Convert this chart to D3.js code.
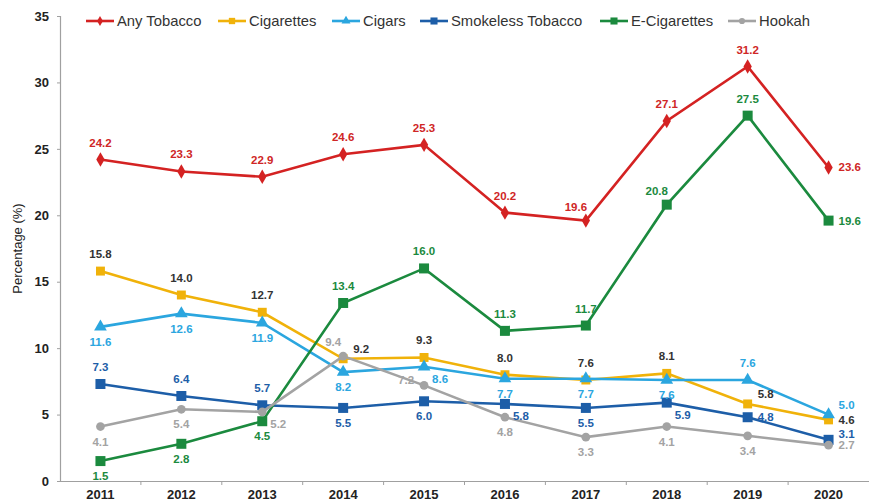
<!DOCTYPE html>
<html>
<head>
<meta charset="utf-8">
<script src="https://cdn.jsdelivr.net/npm/d3@7"></script>
<style>
  body { margin: 0; background: #fff; }
  text { font-family: "Liberation Sans", Arial, sans-serif; }
</style>
</head>
<body>
<div class="chart"></div>
<script>
const years = ['2011', '2012', '2013', '2014', '2015', '2016', '2017', '2018', '2019', '2020'];
const yTicks = [0, 5, 10, 15, 20, 25, 30, 35];

const anyTobacco = [24.2, 23.3, 22.9, 24.6, 25.3, 20.2, 19.6, 27.1, 31.2, 23.6];
const cigarettes = [15.8, 14.0, 12.7, 9.2, 9.3, 8.0, 7.6, 8.1, 5.8, 4.6];
const cigars = [11.6, 12.6, 11.9, 8.2, 8.6, 7.7, 7.7, 7.6, 7.6, 5.0];
const smokeless = [7.3, 6.4, 5.7, 5.5, 6.0, 5.8, 5.5, 5.9, 4.8, 3.1];
const eCigarettes = [1.5, 2.8, 4.5, 13.4, 16.0, 11.3, 11.7, 20.8, 27.5, 19.6];
const hookah = [4.1, 5.4, 5.2, 9.4, 7.2, 4.8, 3.3, 4.1, 3.4, 2.7];

const seriesNames = ['Any Tobacco', 'Cigarettes', 'Cigars', 'Smokeless Tobacco', 'E-Cigarettes', 'Hookah'];
const seriesValues = [anyTobacco, cigarettes, cigars, smokeless, eCigarettes, hookah];

// styling for each series
const lineColors = ['#d42222', '#f0b20a', '#2ba6df', '#1d5ea8', '#1b8a3e', '#a3a3a3'];
const labelColors = ['#cf2626', '#333333', '#2ba6df', '#1d5ea8', '#1b8a3e', '#a3a3a3'];
const markers = ['diamond', 'square', 'triangle', 'square', 'square', 'circle'];
const markerSizes = [60, 80, 70, 100, 100, 60];

// where each value label sits relative to its point
const labelSpots = [
  ['a', 'a', 'a', 'a', 'a', 'a', 'al', 'a', 'a', 'r'],
  ['a', 'a', 'a', 'ar', 'a', 'a', 'a', 'a', 'ar', 'r'],
  ['b', 'b', 'b', 'b', 'br', 'b', 'b', 'b', 'a', 'ar'],
  ['a', 'a', 'a', 'b', 'b', 'br', 'b', 'br', 'r', 'ru'],
  ['b', 'b', 'b', 'a', 'a', 'a', 'a', 'al', 'a', 'r'],
  ['b', 'b', 'br', 'al', 'l', 'b', 'b', 'b', 'b', 'r']
];
const spot = {
  a: { dx: 0, dy: -17, anchor: 'middle' },
  b: { dx: 0, dy: 15, anchor: 'middle' },
  r: { dx: 10, dy: 0, anchor: 'start' },
  ru: { dx: 10, dy: -6, anchor: 'start' },
  ar: { dx: 10, dy: -10, anchor: 'start' },
  br: { dx: 8, dy: 12, anchor: 'start' },
  al: { dx: -10, dy: -14, anchor: 'middle' },
  l: { dx: -10, dy: -5, anchor: 'end' }
};

const width = 869;
const height = 503;
const margin = { top: 16, right: 0, bottom: 22, left: 60 };
const graphWidth = width - margin.left - margin.right;
const graphHeight = height - margin.top - margin.bottom;

const svg = d3.select('.chart')
  .append('svg')
  .attr('width', width)
  .attr('height', height);

const graph = svg.append('g')
  .attr('transform', `translate(${margin.left}, ${margin.top})`);

const x = d3.scaleBand().domain(years).range([0, graphWidth]);
const y = d3.scaleLinear().domain([0, 35]).range([graphHeight, 0]);
const cx = (i) => x(years[i]) + x.bandwidth() / 2;

// axes
const xAxis = d3.axisBottom(x).tickSize(0).tickPadding(9);
const xAxisGroup = graph.append('g')
  .attr('transform', `translate(0, ${graphHeight})`)
  .call(xAxis);
xAxisGroup.select('.domain').attr('stroke', '#a0a0a0').attr('stroke-width', 1.2);
xAxisGroup.selectAll('text')
  .attr('font-size', 13)
  .attr('font-weight', 'bold')
  .attr('fill', '#222');

graph.append('g')
  .selectAll('line')
  .data(years.slice(1))
  .enter()
  .append('line')
  .attr('x1', (d) => x(d))
  .attr('x2', (d) => x(d))
  .attr('y1', graphHeight)
  .attr('y2', graphHeight + 4)
  .attr('stroke', '#a0a0a0');

const yAxis = d3.axisLeft(y).tickValues(yTicks).tickSize(3).tickPadding(8);
const yAxisGroup = graph.append('g').call(yAxis);
yAxisGroup.select('.domain').attr('stroke', '#a0a0a0').attr('stroke-width', 1.2);
yAxisGroup.selectAll('.tick line').attr('stroke', '#a0a0a0');
yAxisGroup.selectAll('text')
  .attr('font-size', 13)
  .attr('font-weight', 'bold')
  .attr('fill', '#222');

svg.append('text')
  .attr('transform', `translate(22, ${margin.top + graphHeight / 2}) rotate(-90)`)
  .attr('text-anchor', 'middle')
  .attr('font-size', 13)
  .attr('fill', '#222')
  .text('Percentage (%)');

const symbolType = {
  diamond: d3.symbolDiamond,
  square: d3.symbolSquare,
  triangle: d3.symbolTriangle,
  circle: d3.symbolCircle
};

const line = d3.line()
  .x((d, i) => cx(i))
  .y((d) => y(d));

seriesValues.forEach((values, s) => {
  const g = graph.append('g');

  g.append('path')
    .datum(values)
    .attr('fill', 'none')
    .attr('stroke', lineColors[s])
    .attr('stroke-width', 2.6)
    .attr('d', line);

  g.selectAll('path.marker')
    .data(values)
    .enter()
    .append('path')
    .attr('class', 'marker')
    .attr('d', d3.symbol().type(symbolType[markers[s]]).size(markerSizes[s]))
    .attr('transform', (d, i) => `translate(${cx(i)}, ${y(d)})`)
    .attr('fill', lineColors[s]);
});

// value labels on top of all lines
seriesValues.forEach((values, s) => {
  graph.append('g')
    .selectAll('text')
    .data(values)
    .enter()
    .append('text')
    .attr('x', (d, i) => cx(i) + spot[labelSpots[s][i]].dx)
    .attr('y', (d, i) => y(d) + spot[labelSpots[s][i]].dy)
    .attr('dy', '0.35em')
    .attr('text-anchor', (d, i) => spot[labelSpots[s][i]].anchor)
    .attr('font-size', 11.5)
    .attr('font-weight', 'bold')
    .attr('fill', labelColors[s])
    .text((d) => d.toFixed(1));
});

// legend
const legendX = [86, 218, 332, 420, 600, 728];
const legend = svg.append('g')
  .attr('transform', 'translate(0, 21)');

seriesNames.forEach((name, s) => {
  const item = legend.append('g')
    .attr('transform', `translate(${legendX[s]}, 0)`);
  item.append('line')
    .attr('x1', 0)
    .attr('x2', 28)
    .attr('stroke', lineColors[s])
    .attr('stroke-width', 2.6);
  item.append('path')
    .attr('d', d3.symbol().type(symbolType[markers[s]]).size(markerSizes[s] * 0.5))
    .attr('transform', 'translate(14, 0)')
    .attr('fill', lineColors[s]);
  item.append('text')
    .attr('x', 31)
    .attr('dy', '0.35em')
    .attr('font-size', 14.8)
    .attr('fill', '#333')
    .text(name);
});
</script>
</body>
</html>
